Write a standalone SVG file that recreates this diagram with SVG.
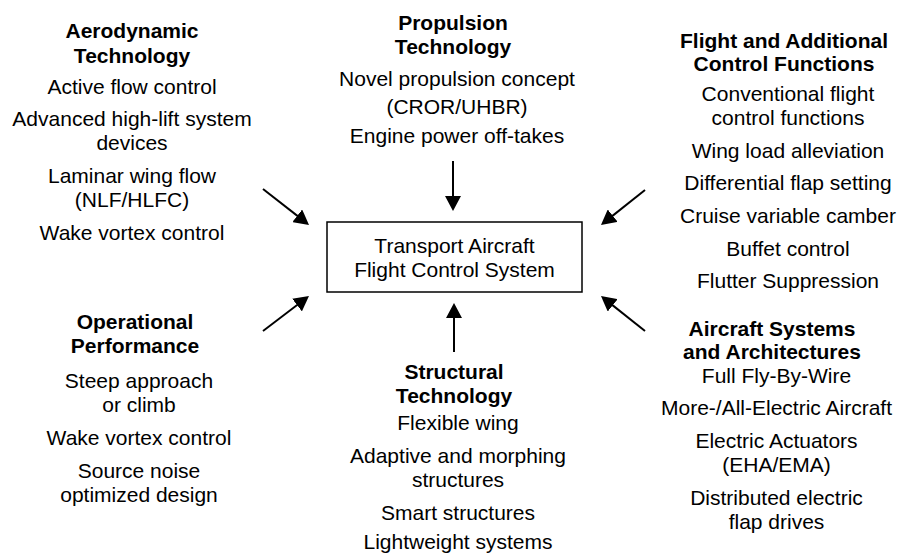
<svg xmlns="http://www.w3.org/2000/svg" width="901" height="555" viewBox="0 0 901 555">
<defs>
<style>
text{font-family:"Liberation Sans",Arial,sans-serif;font-size:21px;fill:#000;text-anchor:middle}
.h{font-weight:bold}
.ln{stroke:#000;stroke-width:2;fill:none;marker-end:url(#ah)}
</style>
<marker id="ah" markerUnits="userSpaceOnUse" markerWidth="16" markerHeight="16" refX="10" refY="8" orient="auto" viewBox="0 0 16 16">
<path d="M0,0 L15,8 L0,16 z" fill="#000"/>
</marker>
</defs>
<rect width="901" height="555" fill="#fff"/>
<g id="center">
<rect x="327" y="222" width="255" height="70" fill="#fff" stroke="#000" stroke-width="1.5"/>
<text x="454.5" y="253">Transport Aircraft</text>
<text x="454.5" y="277">Flight Control System</text>
</g>
<g id="aero">
<text class="h" x="132" y="38">Aerodynamic</text>
<text class="h" x="132" y="63">Technology</text>
<text x="132" y="94">Active flow control</text>
<text x="132" y="126">Advanced high-lift system</text>
<text x="132" y="150">devices</text>
<text x="132" y="183">Laminar wing flow</text>
<text x="132" y="207">(NLF/HLFC)</text>
<text x="132" y="240">Wake vortex control</text>
</g>
<g id="propulsion">
<text class="h" x="453" y="30">Propulsion</text>
<text class="h" x="453" y="54">Technology</text>
<text x="457" y="86">Novel propulsion concept</text>
<text x="457" y="114">(CROR/UHBR)</text>
<text x="457" y="143">Engine power off-takes</text>
</g>
<g id="flight">
<text class="h" x="784" y="48">Flight and Additional</text>
<text class="h" x="784" y="71">Control Functions</text>
<text x="788" y="101">Conventional flight</text>
<text x="788" y="125">control functions</text>
<text x="788" y="158">Wing load alleviation</text>
<text x="788" y="190">Differential flap setting</text>
<text x="788" y="223">Cruise variable camber</text>
<text x="788" y="256">Buffet control</text>
<text x="788" y="288">Flutter Suppression</text>
</g>
<g id="operational">
<text class="h" x="135" y="329">Operational</text>
<text class="h" x="135" y="353">Performance</text>
<text x="139" y="388">Steep approach</text>
<text x="139" y="412">or climb</text>
<text x="139" y="445">Wake vortex control</text>
<text x="139" y="478">Source noise</text>
<text x="139" y="502">optimized design</text>
</g>
<g id="structural">
<text class="h" x="454" y="379">Structural</text>
<text class="h" x="454" y="403">Technology</text>
<text x="458" y="430">Flexible wing</text>
<text x="458" y="463">Adaptive and morphing</text>
<text x="458" y="487">structures</text>
<text x="458" y="520">Smart structures</text>
<text x="458" y="549">Lightweight systems</text>
</g>
<g id="systems">
<text class="h" x="772" y="336">Aircraft Systems</text>
<text class="h" x="772" y="359">and Architectures</text>
<text x="776.5" y="383">Full Fly-By-Wire</text>
<text x="776.5" y="415">More-/All-Electric Aircraft</text>
<text x="776.5" y="448">Electric Actuators</text>
<text x="776.5" y="472">(EHA/EMA)</text>
<text x="776.5" y="505">Distributed electric</text>
<text x="776.5" y="529">flap drives</text>
</g>
<g id="connectors">
<line class="ln" x1="453" y1="161" x2="453" y2="206"/>
<line class="ln" x1="454" y1="352" x2="454" y2="308"/>
<line class="ln" x1="263" y1="189" x2="305.1" y2="221.9"/>
<line class="ln" x1="645" y1="190" x2="604.9" y2="221.9"/>
<line class="ln" x1="263" y1="331" x2="305" y2="299"/>
<line class="ln" x1="645" y1="331" x2="604.9" y2="299.1"/>
</g>
</svg>
